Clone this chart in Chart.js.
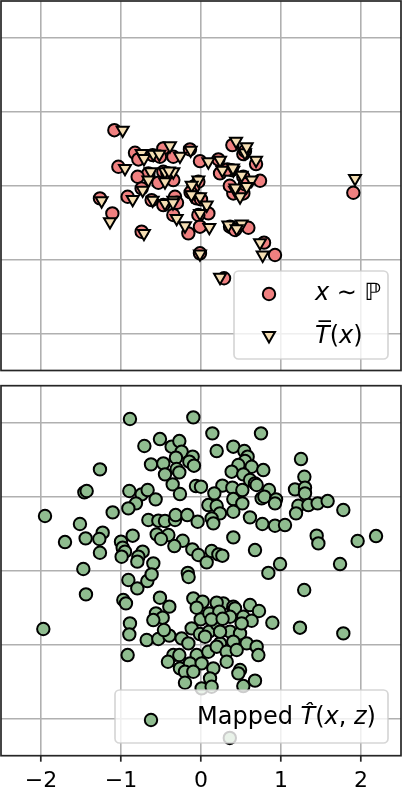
<!DOCTYPE html>
<html>
<head>
<meta charset="utf-8">
<script src="https://cdn.jsdelivr.net/npm/chart.js@4.4.0/dist/chart.umd.min.js"></script>
<style>
html,body{margin:0;padding:0;background:#fff;width:402px;height:787px;overflow:hidden;}
#c1{position:absolute;left:0;top:0;}
#c2{position:absolute;left:0;top:378px;}
</style>
</head>
<body>
<canvas id="c1" width="402" height="378"></canvas>
<canvas id="c2" width="402" height="409"></canvas>
<script>
// ---------- data ----------
const xTickValues = [-2, -1, 0, 1, 2];
const xTickLabels = ['\u22122', '\u22121', '0', '1', '2'];
const yTickValues = [-2, -1, 0, 1, 2];

const topLegendLabels = ['x \u223C \u2119', 'T\u0305(x)'];
const bottomLegendLabel = 'Mapped T\u0302(x, z)';

// samples x ~ P  (circles)
const sourcePts = [
  [-1.083,0.752],[0.392,0.550],[0.529,0.428],[-0.471,0.505],[-0.138,0.491],[-0.825,0.446],
  [-0.783,0.356],[-0.604,0.414],[-0.513,0.392],[-0.346,0.392],[-0.013,0.333],[0.217,0.356],
  [0.688,0.293],[-1.033,0.257],[0.238,0.167],[0.383,0.212],[-0.471,0.189],[-0.346,0.077],
  [-0.658,0.167],[-0.792,0.122],[0.738,0.068],[0.529,0.122],[-0.033,0.054],[-0.096,-0.014],
  [-0.533,0.041],[0.404,-0.104],[0.529,-0.104],[1.904,-0.095],[-0.917,-0.149],[-1.263,-0.171],
  [-0.742,-0.036],[-0.617,-0.194],[-0.471,-0.261],[-0.325,-0.149],[-0.054,-0.171],[0.0,-0.185],
  [-1.108,-0.374],[0.092,-0.374],[-0.033,-0.396],[-0.346,-0.396],[-0.158,-0.644],[-0.013,-0.554],
  [0.363,-0.554],[0.592,-0.568],[0.425,-0.599],[-0.742,-0.622],[0.788,-0.770],[0.925,-0.937],
  [-0.013,-0.914],[0.288,-1.252],[-0.42,0.17],[0.36,0.0],[0.55,0.02],[-0.13,-0.09],
  [-0.30,-0.23],[0.33,0.22],[0.55,0.47]
];
// mapped T-bar(x)  (down triangles)
const mappedBarPts = [
  [-0.979,0.752],[0.438,0.604],[0.55,0.446],[-0.388,0.541],[-0.129,0.482],[-0.742,0.437],
  [-0.713,0.369],[-0.596,0.428],[-0.521,0.428],[-0.263,0.401],[0.092,0.324],[0.238,0.347],
  [0.688,0.347],[-0.95,0.234],[0.267,0.212],[0.404,0.212],[-0.45,0.189],[-0.346,0.189],
  [-0.629,0.189],[-0.658,0.077],[0.633,0.077],[0.508,0.144],[-0.033,0.077],[-0.117,0.009],
  [-0.45,0.054],[0.425,-0.059],[0.488,-0.149],[1.925,0.099],[-0.854,-0.185],[-1.242,-0.203],
  [-0.729,-0.059],[-0.604,-0.194],[-0.45,-0.239],[-0.346,-0.194],[-0.117,-0.126],[-0.013,-0.149],
  [-1.138,-0.486],[0.071,-0.261],[-0.013,-0.374],[-0.304,-0.441],[-0.2,-0.541],[0.104,-0.563],
  [0.342,-0.532],[0.508,-0.518],[0.446,-0.581],[-0.713,-0.644],[0.738,-0.770],[0.771,-0.937],
  [-0.013,-0.923],[0.238,-1.239],[-0.40,0.20],[0.43,-0.03],[0.57,-0.01],[-0.12,-0.12],
  [-0.35,-0.23],[0.40,0.24],[0.571,0.527]
];
// mapped T-hat(x, z)  (green circles)
const mappedHatPts = [
  [-0.888,2.05],[-0.096,2.072],[-0.708,1.685],[-0.513,1.779],[-0.367,1.676],[-0.271,1.752],
  [-0.242,1.608],[-0.313,1.527],[-0.104,1.541],[-0.146,1.473],[-0.088,1.419],[-0.625,1.437],
  [-0.471,1.450],[-0.45,1.302],[-0.304,1.374],[-0.271,1.329],[-0.354,1.167],[-0.263,1.036],
  [-0.063,1.144],[0.0,1.135],[-1.263,1.369],[-1.458,1.059],[-1.429,1.077],[-0.896,1.077],
  [-0.742,1.032],[-0.667,1.090],[-0.567,0.964],[-0.813,0.910],[-0.908,0.842],[-1.95,0.739],
  [-1.104,0.788],[-0.658,0.685],[-0.533,0.676],[-0.45,0.671],[-0.325,0.685],[-0.317,0.752],
  [-0.171,0.752],[-0.042,0.662],[-1.513,0.631],[-0.554,0.491],[-0.408,0.482],[-0.5,0.428],
  [-0.229,0.405],[-0.333,0.333],[-1.229,0.514],[-1.271,0.428],[-1.442,0.437],[-1.7,0.387],
  [-0.854,0.473],[-1.0,0.392],[-0.979,0.311],[-0.95,0.257],[-0.992,0.189],[-1.263,0.243],
  [-0.729,0.257],[-0.783,0.189],[-0.796,0.122],[-0.596,0.099],[-0.108,0.288],[-0.033,0.212],
  [-1.471,0.023],[-0.165,-0.03],[-0.155,-0.085],
  [0.142,1.856],[0.75,1.856],[0.196,1.617],[0.404,1.676],[0.542,1.617],[0.583,1.541],
  [0.55,1.482],[0.467,1.428],[0.633,1.405],[0.383,1.338],[0.529,1.302],[0.779,1.360],
  [0.613,1.225],[0.675,1.180],[0.696,1.158],[1.25,1.509],[1.292,1.270],[1.175,1.099],
  [1.3,1.122],[1.3,1.045],[0.267,1.149],[0.392,1.122],[0.517,1.090],[0.167,1.045],
  [0.85,1.090],[0.758,0.977],[0.792,1.0],[0.938,0.964],[0.925,0.910],[0.404,0.968],
  [0.517,0.910],[0.092,0.887],[0.196,0.874],[0.237,0.775],[0.404,0.797],[0.133,0.707],
  [0.154,0.640],[1.217,0.878],[1.342,0.887],[1.458,0.910],[1.583,0.941],[1.188,0.775],
  [1.779,0.820],[0.612,0.721],[0.767,0.631],[0.925,0.608],[1.05,0.617],[0.404,0.450],
  [1.446,0.473],[1.467,0.369],[1.958,0.401],[2.188,0.468],[0.675,0.279],[0.133,0.266],
  [0.217,0.221],[0.267,0.203],[0.071,0.113],[0.988,0.090],[1.738,0.090],[0.842,-0.03],
  [-1.438,-0.320],[-1.971,-0.788],[-0.908,-0.126],[-0.796,-0.239],[-0.671,-0.140],[-0.617,-0.05],
  [-0.971,-0.396],[-0.938,-0.441],[-0.513,-0.365],[-0.396,-0.486],[-0.563,-0.577],[-0.479,-0.635],
  [-0.596,-0.667],[-0.888,-0.712],[-0.896,-0.860],[-0.679,-0.937],[-0.533,-0.923],[-0.396,-0.878],
  [-0.463,-0.802],[-0.917,-1.140],[-0.096,-0.374],[0.021,-0.419],[-0.054,-0.5],[-0.346,-1.140],
  [-0.271,-1.140],[-0.413,-1.23],[-0.263,-1.320],
  [1.29,-0.261],[0.892,-0.703],[1.237,-0.770],[1.779,-0.847],[0.613,-0.464],[0.725,-0.545],
  [0.279,-0.441],[0.404,-0.486],[0.196,-0.432],[0.425,-0.509],[-0.004,-0.658],[0.104,-0.577],
  [0.229,-0.554],[0.363,-0.622],[0.529,-0.622],[0.633,-0.676],[-0.117,-0.779],[-0.013,-0.856],
  [0.1,-0.824],[0.2,-0.721],[0.363,-0.824],[0.488,-0.847],[-0.242,-0.914],[-0.158,-0.982],
  [0.05,-0.892],[0.238,-0.982],[0.404,-0.959],[0.571,-0.982],[0.696,-1.027],[-0.054,-1.140],
  [0.092,-1.095],[0.196,-1.027],[0.321,-1.095],[0.446,-1.072],[0.717,-1.140],[-0.138,-1.252],
  [0.008,-1.252],[0.154,-1.320],[0.321,-1.230],[0.488,-1.342],[0.467,-1.387],[-0.2,-1.365],
  [-0.096,-1.365],[0.113,-1.455],[0.675,-1.486],[0.529,-1.559],[0.008,-1.59],[0.133,-1.568],
  [-0.2,-1.514],[0.508,-0.712],[0.238,-0.824],[0.13,-0.66],[0.27,-0.65],[0.36,-2.26]
];

// ---------- styling ----------
const FONT = '"DejaVu Sans", "Liberation Sans", sans-serif';
const COL_SRC = '#F08080';
const COL_BAR = '#F5DEB3';
const COL_HAT = '#8FBC8F';
const EDGE = '#000000';
const BW = 2;

const toXY = a => a.map(p => ({x: p[0], y: p[1]}));

function makeScales(showXLabels, xAxisHeight) {
  return {
    x: {
      type: 'linear', min: -2.5, max: 2.5,
      afterBuildTicks: s => { s.ticks = xTickValues.map(v => ({value: v})); },
      afterFit: s => { s.height = xAxisHeight; },
      grid: { color: '#b0b0b0', lineWidth: 1.6, drawTicks: showXLabels, tickLength: 6,
              tickColor: '#262626', tickWidth: 1.7 },
      border: { display: false },
      ticks: { display: showXLabels, padding: 6, color: '#000',
               font: { family: FONT, size: 22 }, maxRotation: 0, autoSkip: false,
               callback: v => xTickLabels[xTickValues.indexOf(v)] }
    },
    y: {
      type: 'linear', min: -2.5, max: 2.5,
      afterBuildTicks: s => { s.ticks = yTickValues.map(v => ({value: v})); },
      afterFit: s => { s.width = 0; },
      grid: { color: '#b0b0b0', lineWidth: 1.6, drawTicks: false },
      border: { display: false },
      ticks: { display: false }
    }
  };
}

const framePlugin = {
  id: 'frame',
  afterDatasetsDraw(chart) {
    const {ctx, chartArea: a} = chart;
    ctx.save();
    ctx.strokeStyle = '#262626';
    ctx.lineWidth = 1.7;
    ctx.strokeRect(a.left, a.top, a.right - a.left, a.bottom - a.top);
    ctx.restore();
  }
};

function roundRect(ctx, x, y, w, h, r) {
  ctx.beginPath();
  ctx.moveTo(x + r, y);
  ctx.lineTo(x + w - r, y);
  ctx.arcTo(x + w, y, x + w, y + r, r);
  ctx.lineTo(x + w, y + h - r);
  ctx.arcTo(x + w, y + h, x + w - r, y + h, r);
  ctx.lineTo(x + r, y + h);
  ctx.arcTo(x, y + h, x, y + h - r, r);
  ctx.lineTo(x, y + r);
  ctx.arcTo(x, y, x + r, y, r);
  ctx.closePath();
}

function drawBox(ctx, x, y, w, h) {
  ctx.save();
  roundRect(ctx, x, y, w, h, 4.5);
  ctx.fillStyle = 'rgba(255,255,255,0.8)';
  ctx.fill();
  ctx.strokeStyle = 'rgba(204,204,204,0.8)';
  ctx.lineWidth = 1.7;
  ctx.stroke();
  ctx.restore();
}

function drawMarker(ctx, style, fill, radius, rotation, x, y) {
  ctx.save();
  ctx.fillStyle = fill;
  ctx.strokeStyle = EDGE;
  ctx.lineWidth = BW;
  Chart.helpers.drawPoint(ctx, {pointStyle: style, radius: radius, rotation: rotation, borderWidth: BW}, x, y);
  ctx.restore();
}

// draw text made of runs of (text, font)
function drawRuns(ctx, x, y, runs) {
  ctx.save();
  ctx.fillStyle = '#000';
  ctx.textBaseline = 'alphabetic';
  ctx.textAlign = 'left';
  for (const r of runs) {
    ctx.font = r.f;
    ctx.fillText(r.t, x, y);
    x += ctx.measureText(r.t).width;
  }
  ctx.restore();
}
const REG = '24px ' + FONT;
const ITA = 'italic 24px ' + FONT;

const topLegend = {
  id: 'topLegend',
  afterDraw(chart) {
    const ctx = chart.ctx;
    drawBox(ctx, 234, 271, 154, 88);
    drawMarker(ctx, 'circle', COL_SRC, 6.2, 0, 269, 294);
    drawMarker(ctx, 'triangle', COL_BAR, 6.9, 180, 269, 335.5);
    const l0 = topLegendLabels[0];
    drawRuns(ctx, 315, 300, [{t: l0.slice(0, 1), f: ITA}, {t: l0.slice(1, 4), f: REG}, {t: l0.slice(4), f: ITA}]);
    const l1 = topLegendLabels[1];
    drawRuns(ctx, 315, 343, [{t: l1.slice(0, 2), f: ITA}, {t: '(', f: REG}, {t: 'x', f: ITA}, {t: ')', f: REG}]);
  }
};

const bottomLegend = {
  id: 'bottomLegend',
  afterDraw(chart) {
    const ctx = chart.ctx;
    drawBox(ctx, 115, 312, 273, 53);
    drawMarker(ctx, 'circle', COL_HAT, 6.2, 0, 151, 342);
    const L = bottomLegendLabel;
    drawRuns(ctx, 197, 346.3, [
      {t: L.slice(0, 7), f: REG}, {t: L.slice(7, 9), f: ITA}, {t: '(', f: REG},
      {t: 'x', f: ITA}, {t: ', ', f: REG}, {t: 'z', f: ITA}, {t: ')', f: REG}
    ]);
  }
};

const baseOpts = (padding, showX, xH) => ({
  responsive: false,
  animation: false,
  devicePixelRatio: 1,
  events: [],
  layout: { padding: padding, autoPadding: false },
  plugins: { legend: { display: false }, tooltip: { enabled: false } },
  scales: makeScales(showX, xH)
});

new Chart(document.getElementById('c1'), {
  type: 'scatter',
  data: {
    datasets: [
      { label: topLegendLabels[1], data: toXY(mappedBarPts), order: 1, clip: 0,
        pointStyle: 'triangle', pointRotation: 180, pointRadius: 6.9,
        pointBackgroundColor: COL_BAR, pointBorderColor: EDGE, pointBorderWidth: BW,
        backgroundColor: COL_BAR, borderColor: EDGE },
      { label: topLegendLabels[0], data: toXY(sourcePts), order: 2, clip: 0,
        pointStyle: 'circle', pointRadius: 6.2,
        pointBackgroundColor: COL_SRC, pointBorderColor: EDGE, pointBorderWidth: BW,
        backgroundColor: COL_SRC, borderColor: EDGE }
    ]
  },
  options: baseOpts({left: 1, right: 1, top: 1, bottom: 7.5}, false, 0),
  plugins: [framePlugin, topLegend]
});

new Chart(document.getElementById('c2'), {
  type: 'scatter',
  data: {
    datasets: [
      { label: bottomLegendLabel, data: toXY(mappedHatPts), clip: 0,
        pointStyle: 'circle', pointRadius: 6.2,
        pointBackgroundColor: COL_HAT, pointBorderColor: EDGE, pointBorderWidth: BW,
        backgroundColor: COL_HAT, borderColor: EDGE }
    ]
  },
  options: baseOpts({left: 1, right: 1, top: 7.7, bottom: 0}, true, 31.3),
  plugins: [framePlugin, bottomLegend]
});
</script>
</body>
</html>
